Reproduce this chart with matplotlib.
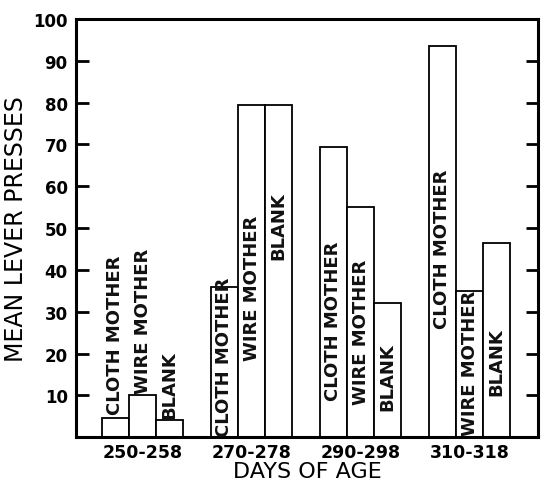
import numpy as np
import matplotlib.pyplot as plt

# mean lever presses
age_groups = ["250-258", "270-278", "290-298", "310-318"]
conditions = ["CLOTH MOTHER", "WIRE MOTHER", "BLANK"]
cloth_mother = [4.5, 36, 69.5, 93.5]
wire_mother = [10, 79.5, 55, 35]
blank = [4, 79.5, 32, 46.5]

# where each rotated label starts (bottom), in data units
label_start = [
    [5.5, 0.3, 9, 26],
    [10.5, 18.5, 8, 0.6],
    [4.5, 42.5, 6.5, 10],
]

series = [cloth_mother, wire_mother, blank]

fig = plt.figure(figsize=(5.47, 4.89), dpi=100)
ax = fig.add_axes([0.139, 0.104, 0.845, 0.855])

x = np.arange(len(age_groups))
width = 0.25
for i, vals in enumerate(series):
    pos = x + (i - 1) * width
    ax.bar(pos, vals, width=width, color="white", edgecolor="black",
           linewidth=1.3, zorder=2)
    for p, y0 in zip(pos, label_start[i]):
        ax.text(p, y0, conditions[i], rotation=90, ha="center", va="bottom",
                fontsize=13, fontweight="semibold", color="#111111", zorder=3)

ax.set_xlim(-0.61, 3.63)
ax.set_ylim(0, 100)
ax.set_yticks(np.arange(10, 101, 10))
ax.set_xticks(x)
ax.set_xticklabels(age_groups, fontsize=12.5, fontweight="semibold")
ax.tick_params(axis="x", length=0, pad=4)
ax.tick_params(axis="y", direction="in", length=9, width=2, right=True,
               labelsize=12, pad=6)
for lab in ax.get_yticklabels():
    lab.set_fontweight("bold")
for s in ax.spines.values():
    s.set_linewidth(2.2)

ax.set_ylabel("MEAN LEVER PRESSES", fontsize=17, labelpad=4)
ax.set_xlabel("DAYS OF AGE", fontsize=16, labelpad=0)

fig.savefig("out.png", dpi=100)
